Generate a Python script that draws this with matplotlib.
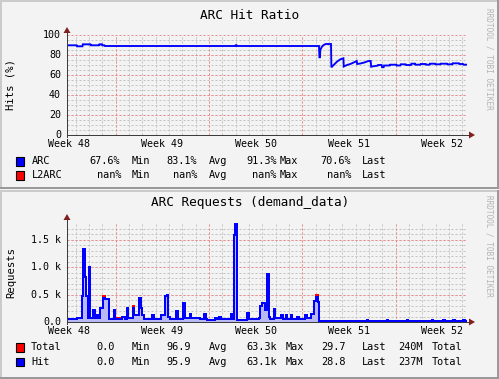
import matplotlib
matplotlib.use("Agg")
import matplotlib.pyplot as plt
from matplotlib.patches import Rectangle, Polygon
import numpy as np

# ---------------- data ----------------
week_labels = ["Week 48", "Week 49", "Week 50", "Week 51", "Week 52"]
week_label_days = [0.15, 7.15, 14.15, 21.15, 28.15]
major_grid_days = [3.65, 10.65, 17.65, 24.65]

# ARC hit ratio (%), days since left edge of graph
hit_days = [0.00, 0.73, 0.76, 1.16, 1.19, 1.76, 1.79, 2.40, 2.43, 2.62, 2.65, 2.80, 2.84,
            12.62, 12.65, 12.72, 12.75, 18.90, 18.93, 18.97, 19.00, 19.10, 19.25, 19.40,
            19.80, 19.83, 20.00, 20.25, 20.50, 20.73, 20.76, 21.00, 21.25, 21.50, 21.73,
            21.76, 22.00, 22.30, 22.60, 22.78, 22.81, 23.10, 23.30, 23.33, 23.60, 23.63,
            23.75, 23.78, 24.20, 24.23, 24.70, 24.73, 25.00, 25.03, 25.40, 25.43, 25.80,
            25.83, 26.10, 26.13, 26.50, 26.53, 26.90, 26.93, 27.20, 27.23, 27.60, 27.63,
            28.00, 28.03, 28.50, 28.53, 28.90, 28.93, 29.40, 29.43, 29.70, 29.75, 29.95]
hit_pct = [89.7, 89.7, 88.7, 88.7, 90.7, 90.7, 89.7, 89.7, 90.7, 90.7, 89.7, 89.7, 89.0,
           89.0, 89.8, 89.8, 89.0, 89.0, 77.7, 77.7, 85.0, 88.0, 90.0, 91.0,
           91.0, 67.7, 70.0, 73.3, 75.7, 76.7, 68.5, 70.0, 71.0, 72.5, 74.0,
           71.0, 71.5, 72.5, 74.0, 74.0, 68.3, 69.0, 69.3, 70.0, 70.0, 67.8,
           67.8, 69.5, 69.5, 70.3, 70.3, 69.5, 69.5, 70.7, 70.7, 70.0, 70.0,
           71.3, 71.3, 70.3, 70.3, 71.0, 71.0, 70.3, 70.3, 71.3, 71.3, 70.7,
           70.7, 71.3, 71.3, 70.7, 70.7, 71.7, 71.7, 71.0, 71.0, 70.3, 70.3]

# ARC requests (thousands per second), step data
req_days = [0.00, 0.77, 1.15, 1.22, 1.33, 1.43, 1.55, 1.63, 1.73, 1.93,
            2.08, 2.28, 2.43, 2.48, 2.68, 2.88, 3.13, 3.53, 3.60, 4.13,
            4.35, 4.48, 4.60, 4.93, 5.05, 5.43, 5.55, 5.65, 5.80, 6.38,
            6.55, 7.05, 7.38, 7.50, 7.60, 7.75, 8.18, 8.35, 8.70, 8.82,
            9.20, 9.33, 9.98, 10.28, 10.43, 10.53, 11.08, 11.23, 11.38, 11.53,
            12.28, 12.43, 12.55, 12.63, 12.73, 13.53, 13.63, 14.38, 14.48, 14.63,
            14.88, 15.03, 15.13, 15.23, 15.53, 15.63, 16.08, 16.18, 16.43, 16.53,
            16.78, 16.88, 17.28, 17.43, 17.88, 18.00, 18.33, 18.53, 18.68, 18.83,
            18.93, 22.48, 22.58, 23.98, 24.08, 25.48, 25.58, 27.35, 27.45, 28.23,
            28.33, 28.98, 29.08, 29.73, 29.83, 30.00]
hit_k = [0.05, 0.07, 0.47, 1.33, 0.83, 0.47, 0.08, 1.00, 0.08, 0.21,
         0.08, 0.12, 0.08, 0.26, 0.44, 0.42, 0.06, 0.22, 0.05, 0.10,
         0.06, 0.25, 0.08, 0.25, 0.12, 0.44, 0.26, 0.12, 0.05, 0.13,
         0.05, 0.13, 0.47, 0.49, 0.10, 0.05, 0.20, 0.06, 0.34, 0.08,
         0.15, 0.07, 0.06, 0.15, 0.06, 0.04, 0.08, 0.05, 0.10, 0.06,
         0.15, 0.06, 1.59, 1.79, 0.03, 0.17, 0.05, 0.07, 0.30, 0.35,
         0.22, 0.88, 0.10, 0.06, 0.23, 0.08, 0.12, 0.06, 0.12, 0.06,
         0.12, 0.06, 0.10, 0.06, 0.12, 0.08, 0.15, 0.38, 0.46, 0.36,
         0.01, 0.03, 0.01, 0.03, 0.01, 0.03, 0.01, 0.03, 0.01, 0.03,
         0.01, 0.03, 0.01, 0.03, 0.01, 0.01]
total_k = [0.05, 0.07, 0.47, 1.33, 0.83, 0.47, 0.08, 1.00, 0.08, 0.21,
           0.08, 0.12, 0.08, 0.26, 0.47, 0.42, 0.06, 0.22, 0.08, 0.10,
           0.06, 0.25, 0.08, 0.30, 0.12, 0.44, 0.26, 0.12, 0.05, 0.13,
           0.05, 0.13, 0.47, 0.49, 0.10, 0.05, 0.20, 0.06, 0.34, 0.08,
           0.15, 0.07, 0.06, 0.15, 0.06, 0.04, 0.08, 0.08, 0.10, 0.06,
           0.15, 0.06, 1.59, 1.79, 0.03, 0.17, 0.05, 0.07, 0.30, 0.35,
           0.22, 0.88, 0.10, 0.06, 0.23, 0.08, 0.12, 0.06, 0.12, 0.06,
           0.12, 0.06, 0.10, 0.06, 0.12, 0.08, 0.15, 0.38, 0.49, 0.36,
           0.01, 0.03, 0.01, 0.03, 0.01, 0.03, 0.01, 0.03, 0.01, 0.03,
           0.01, 0.03, 0.01, 0.03, 0.01, 0.01]
assert len(hit_days) == len(hit_pct)
assert len(req_days) == len(hit_k) == len(total_k)

pct_ticks = [0, 20, 40, 60, 80, 100]
req_ticks = [0.0, 0.5, 1.0, 1.5]
req_tick_labels = ["0.0", "0.5 k", "1.0 k", "1.5 k"]

legend_top = [
    ("#0000FF", 161.3, [("ARC", 31.7), ("67.6%", 89.3), ("Min", 131.7), ("83.1%", 166.7),
                         ("Avg", 209), ("91.3%", 246), ("Max", 279.3), ("70.6%", 320.7),
                         ("Last", 362.3)]),
    ("#FF0000", 175.2, [("L2ARC", 31.7), ("nan%", 96.7), ("Min", 131.7), ("nan%", 173.3),
                         ("Avg", 209), ("nan%", 252.0), ("Max", 279.3), ("nan%", 327.3),
                         ("Last", 362.3)]),
]
legend_bottom = [
    ("#FF0000", 347.5, [("Total", 31), ("0.0", 96.7), ("Min", 131.7), ("96.9", 166.7),
                         ("Avg", 209), ("63.3k", 246), ("Max", 285.7), ("29.7", 320.7),
                         ("Last", 362.3), ("240M", 397.7), ("Total", 431.7)]),
    ("#0000FF", 361.8, [("Hit", 31), ("0.0", 96.7), ("Min", 131.7), ("95.9", 166.7),
                         ("Avg", 209), ("63.1k", 246), ("Max", 285.7), ("28.8", 320.7),
                         ("Last", 362.3), ("237M", 397.7), ("Total", 431.7)]),
]

# ---------------- figure ----------------
W, H = 499, 379
BG = "#F3F3F3"
fig = plt.figure(figsize=(W / 100, H / 100), dpi=100)
fig.patch.set_facecolor(BG)
MONO = "DejaVu Sans Mono"


def fx(x):
    return x / W


def fy(y):
    return 1 - y / H


def ftext(x, y, s, **kw):
    kw.setdefault("family", MONO)
    fig.text(fx(x), fy(y), s, **kw)


def frect(x0, y0, x1, y1, color, z=1):
    fig.patches.append(Rectangle((fx(x0), fy(y1)), (x1 - x0) / W, (y1 - y0) / H,
                                 transform=fig.transFigure, facecolor=color,
                                 edgecolor="none", zorder=z))


# panel borders (3D shade)
for top, bot in [(0, 189), (190, 379)]:
    frect(0, top, W, top + 2, "#CBCBCB")
    frect(0, top, 2, bot, "#CBCBCB")
    frect(0, bot - 2, W, bot, "#999999")
    frect(W - 2, top, W, bot, "#999999")

L, R = 67, 467
GRID_MINOR = "#C2C2C2"
GRID_MAJOR = "#EE8C8C"
AXIS = "#3C3C3C"
ARROW = "#7F1F1F"


def make_axes(top, bottom, ymax, yminor, ymajor):
    ax = fig.add_axes([fx(L), fy(bottom), (R - L) / W, (bottom - top) / H])
    ax.set_facecolor("none")
    ax.set_zorder(3)
    ax.set_xlim(0, 30)
    ax.set_ylim(0, ymax)
    for s in ax.spines.values():
        s.set_visible(False)
    ax.set_xticks([])
    ax.set_yticks([])
    g = dict(lw=0.72, ls=(0, (2, 2)), snap=True)
    for d in np.arange(0.65, 30, 1.0):
        ax.axvline(d, color=GRID_MINOR, zorder=1, **g)
    for v in yminor:
        ax.axhline(v, color=GRID_MINOR, zorder=1, **g)
    for d in major_grid_days:
        ax.axvline(d, color=GRID_MAJOR, zorder=2, **g)
    for v in ymajor:
        ax.axhline(v, color=GRID_MAJOR, zorder=2, **g)
    return ax


def draw_axis_lines(top, bottom):
    fig.lines.append(plt.Line2D([fx(L), fx(471)], [fy(bottom), fy(bottom)],
                                transform=fig.transFigure, color=AXIS, lw=0.72,
                                snap=True, zorder=5))
    fig.lines.append(plt.Line2D([fx(L), fx(L)], [fy(bottom + 2), fy(top - 3)],
                                transform=fig.transFigure, color=AXIS, lw=0.72,
                                snap=True, zorder=5))
    fig.patches.append(Polygon([(fx(469), fy(bottom - 3.5)), (fx(469), fy(bottom + 3.5)),
                                (fx(475), fy(bottom))], closed=True, transform=fig.transFigure,
                               facecolor=ARROW, edgecolor="none", zorder=6))
    fig.patches.append(Polygon([(fx(L - 3.5), fy(top - 2)), (fx(L + 3.5), fy(top - 2)),
                                (fx(L), fy(top - 8))], closed=True, transform=fig.transFigure,
                               facecolor=ARROW, edgecolor="none", zorder=6))


# ---------- top graph ----------
T1, B1 = 35, 135
ax1 = make_axes(T1, B1, 100, np.arange(5, 100, 5), pct_ticks[1:])
ax1.plot(hit_days, hit_pct, color="#0000FF", lw=1.35, zorder=4, solid_joinstyle="miter")
draw_axis_lines(T1, B1)
for v in pct_ticks:
    ftext(61, B1 - v * (B1 - T1) / 100, str(v), ha="right", va="center", fontsize=7.2)
for lab, d in zip(week_labels, week_label_days):
    ftext(L + d * (R - L) / 30, 143.5, lab, ha="center", va="center", fontsize=7.2)
ftext(250, 15.5, "ARC Hit Ratio", ha="center", va="center", fontsize=9.2)
ftext(11, 85, "Hits (%)", ha="center", va="center", rotation=90, fontsize=7.6)
ftext(489, 8, "RRDTOOL / TOBI OETIKER", ha="center", va="top", rotation=270,
      fontsize=5.6, color="#B4B4B4")

# ---------- bottom graph ----------
T2, B2 = 222, 322
YMAX2 = 1.825
ax2 = make_axes(T2, B2, YMAX2, np.arange(0.1, 1.8, 0.1), [0.5, 1.0, 1.5])
ax2.fill_between(req_days, hit_k, 0, step="post", color="#B8B8F4", lw=0, zorder=3)
ax2.plot(req_days, total_k, color="#FF0000", lw=1.4, drawstyle="steps-post",
         antialiased=False, zorder=4)
ax2.plot(req_days, hit_k, color="#0000FF", lw=1.4, drawstyle="steps-post",
         antialiased=False, zorder=4)
draw_axis_lines(T2, B2)
for v, lab in zip(req_ticks, req_tick_labels):
    ftext(61, B2 - v * (B2 - T2) / YMAX2, lab, ha="right", va="center", fontsize=7.2)
for lab, d in zip(week_labels, week_label_days):
    ftext(L + d * (R - L) / 30, 330.5, lab, ha="center", va="center", fontsize=7.2)
ftext(250, 202.7, "ARC Requests (demand_data)", ha="center", va="center", fontsize=9.2)
ftext(11, 272, "Requests", ha="center", va="center", rotation=90, fontsize=7.6)
ftext(489, 195, "RRDTOOL / TOBI OETIKER", ha="center", va="top", rotation=270,
      fontsize=5.6, color="#B4B4B4")

# ---------- legends ----------
for legend in (legend_top, legend_bottom):
    for color, y, tokens in legend:
        fig.patches.append(Rectangle((fx(16), fy(y + 4.3)), 8.5 / W, 8.5 / H,
                                     transform=fig.transFigure, facecolor=color,
                                     edgecolor="black", lw=0.8, zorder=5))
        for s, x in tokens:
            ftext(x, y, s, ha="left", va="center", fontsize=7.4)

fig.savefig("out.png", dpi=100, facecolor=fig.get_facecolor())
